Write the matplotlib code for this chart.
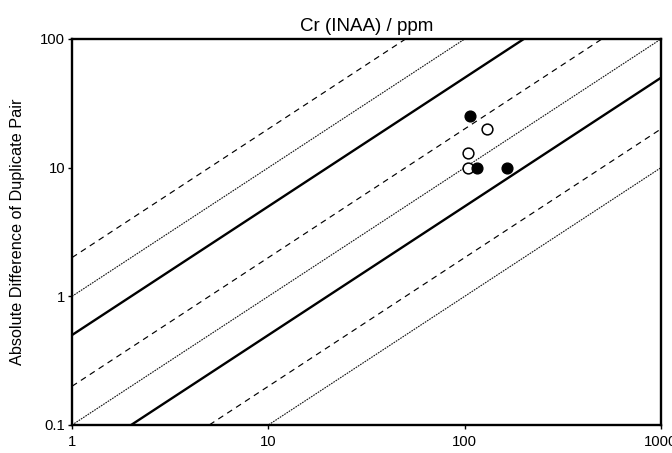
import matplotlib
matplotlib.use("Agg")
import matplotlib.pyplot as plt
from matplotlib.ticker import FixedLocator, FixedFormatter, NullLocator
import numpy as np

plt.rcParams['font.family'] = ['Liberation Sans', 'DejaVu Sans']

# Data
filled_x = [106, 116, 165]
filled_y = [25, 10, 10]
open_x = [130, 104, 104]
open_y = [20, 13, 10]

# Reference lines: y = k * x
solid_k = [0.5, 0.05]
dashed_k = [2, 0.2, 0.02]
dotted_k = [1, 0.1, 0.01]

x_ticks = [1, 10, 100, 1000]
x_ticklabels = ["1", "10", "100", "1000"]
y_ticks = [0.1, 1, 10, 100]
y_ticklabels = ["0.1", "1", "10", "100"]

fig = plt.figure(figsize=(6.72, 4.53), dpi=100)
ax = fig.add_axes([72/672, 28/453, (661-72)/672, (425-39)/453])
ax.set_xscale('log')
ax.set_yscale('log')
ax.set_xlim(1, 1000)
ax.set_ylim(0.1, 100)

xs = np.array([1, 1000], dtype=float)
for k in solid_k:
    ax.plot(xs, k * xs, color='black', lw=1.7, solid_capstyle='butt')
for k in dashed_k:
    ax.plot(xs, k * xs, color='black', lw=0.85, linestyle=(0, (5, 4)))
for k in dotted_k:
    ax.plot(xs, k * xs, color='#111111', lw=0.8, linestyle=(0, (1.5, 0.9)))

ax.scatter(open_x, open_y, s=60, facecolors='white', edgecolors='black', linewidths=1.1, zorder=3)
ax.scatter(filled_x, filled_y, s=60, facecolors='black', edgecolors='black', linewidths=1.0, zorder=4)

ax.xaxis.set_major_locator(FixedLocator(x_ticks))
ax.xaxis.set_major_formatter(FixedFormatter(x_ticklabels))
ax.yaxis.set_major_locator(FixedLocator(y_ticks))
ax.yaxis.set_major_formatter(FixedFormatter(y_ticklabels))
ax.xaxis.set_minor_locator(NullLocator())
ax.yaxis.set_minor_locator(NullLocator())
ax.tick_params(axis='both', direction='out', length=3, width=1, labelsize=10.7, colors='black')
ax.tick_params(axis='x', pad=4)
ax.tick_params(axis='y', pad=2)

for s in ax.spines.values():
    s.set_linewidth(1.7)

ax.set_title("Cr (INAA) / ppm", fontsize=13.5, pad=6)
ax.set_ylabel("Absolute Difference of Duplicate Pair", fontsize=11.7, labelpad=11)

fig.savefig("out.png", dpi=100)
